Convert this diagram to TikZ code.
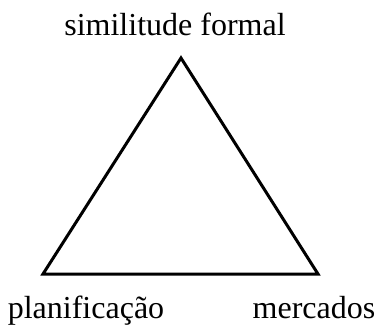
\documentclass[tikz,border=0pt]{standalone}
\usepackage{fontspec}
\setmainfont{Liberation Serif}
\usepackage{tikz}
\usetikzlibrary{positioning, calc}

\tikzset{
    corner/.style={inner sep=0pt, anchor=base, font=\fontsize{24}{28}\selectfont},
    edge/.style={line width=2.25pt, line join=miter}
}

\begin{document}
\begin{tikzpicture}[x=0.75pt, y=-0.75pt]
        \useasboundingbox (0,0) rectangle (380,329);
        % Vertices
        \coordinate (apex) at (181,58);
        \coordinate (botleft) at (43,274);
        \coordinate (botright) at (318,274);
        
        % Triangle
        \draw[edge] (apex) -- (botleft) -- (botright) -- cycle;
        
        % Labels
        \node[corner] (simil) at (175,35) {similitude formal};
        \node[corner] (planif) at (86,318) {planificação};
        \node[corner] (merc) at (314,318) {mercados};
    \end{tikzpicture}
\end{document}
